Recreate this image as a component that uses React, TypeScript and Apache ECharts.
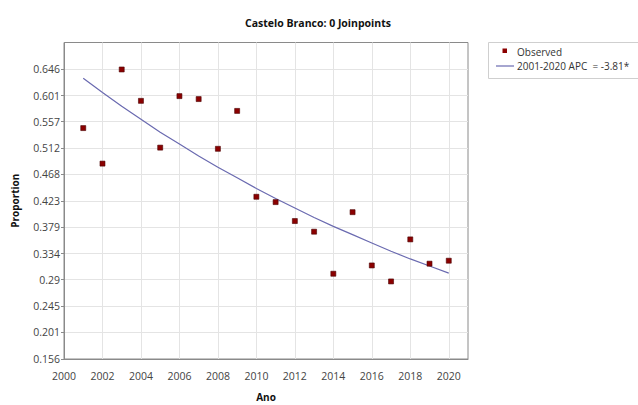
import React, { useEffect, useRef } from "react";
import * as echarts from "echarts";

const TITLE = "Castelo Branco: 0 Joinpoints";
const OBS_NAME = "Observed";
const FIT_NAME = "2001-2020 APC  = -3.81*";

const years = [2001, 2002, 2003, 2004, 2005, 2006, 2007, 2008, 2009, 2010, 2011, 2012, 2013, 2014, 2015, 2016, 2017, 2018, 2019, 2020];
const observed = [0.546, 0.486, 0.645, 0.592, 0.513, 0.600, 0.595, 0.511, 0.575, 0.430, 0.421, 0.389, 0.371, 0.300, 0.404, 0.314, 0.287, 0.358, 0.317, 0.322];
const fitted = [0.630, 0.606, 0.583, 0.561, 0.539, 0.519, 0.499, 0.480, 0.462, 0.444, 0.427, 0.411, 0.395, 0.380, 0.366, 0.352, 0.338, 0.325, 0.313, 0.301];

const yTickLabels = ["0.156", "0.201", "0.245", "0.29", "0.334", "0.379", "0.423", "0.468", "0.512", "0.557", "0.601", "0.646"];
const xTickLabels = ["2000", "2002", "2004", "2006", "2008", "2010", "2012", "2014", "2016", "2018", "2020"];

const FONT = "'Open Sans', 'Noto Sans', sans-serif";
const LINE_COLOR = "#6a6ab0";
const MARK_COLOR = "#8b0000";

export default function App() {
  const ref = useRef<HTMLDivElement>(null);

  useEffect(() => {
    if (!ref.current) return;
    const chart = echarts.init(ref.current, undefined, { renderer: "svg" });
    const yVals = yTickLabels.map(Number);
    const xVals = xTickLabels.map(Number);
    chart.setOption({
      animation: false,
      backgroundColor: "#ffffff",
      title: {
        text: TITLE,
        left: 313,
        top: 12,
        textAlign: "center",
        textStyle: { fontFamily: FONT, fontSize: 10.5, fontWeight: "bold", color: "#111" },
      },
      grid: {
        left: 64,
        top: 42.5,
        right: 170,
        bottom: 46,
        containLabel: false,
        outerBoundsMode: "none",
        show: true,
        borderColor: "#8a8a8a",
        borderWidth: 1,
        backgroundColor: "transparent",
      },
      xAxis: {
        type: "value",
        min: 2000,
        max: 2021,
        interval: 2,
        name: "Ano",
        nameLocation: "middle",
        nameGap: 33,
        nameTextStyle: { fontFamily: FONT, fontSize: 10, fontWeight: "bold", color: "#111" },
        axisLine: { show: true, lineStyle: { color: "#8a8a8a" } },
        axisTick: { show: false, customValues: xVals },
        axisLabel: {
          customValues: xVals,
          margin: 11,
          fontFamily: FONT,
          fontSize: 10.5,
          color: "#444",
          formatter: (v: number) => String(v),
        },
        splitLine: { show: true, lineStyle: { color: "#e4e4e4", width: 1 } },
      },
      yAxis: {
        type: "value",
        min: 0.156,
        max: 0.69055,
        name: "Proportion",
        nameLocation: "middle",
        nameGap: 44,
        nameRotate: 90,
        nameTextStyle: { fontFamily: FONT, fontSize: 10, fontWeight: "bold", color: "#111" },
        axisLine: { show: true, lineStyle: { color: "#8a8a8a" } },
        axisTick: { show: true, length: 3, customValues: yVals, lineStyle: { color: "#8a8a8a" } },
        axisLabel: {
          customValues: yVals,
          margin: 4,
          fontFamily: FONT,
          fontSize: 10.5,
          color: "#444",
          formatter: (v: number) => String(Number(v.toFixed(3))),
        },
        splitLine: { show: true, lineStyle: { color: "#e4e4e4", width: 1 } },
      },
      series: [
        {
          name: FIT_NAME,
          type: "line",
          data: years.map((y, i) => [y, fitted[i]]),
          smooth: false,
          showSymbol: false,
          symbol: "none",
          lineStyle: { color: LINE_COLOR, width: 1.2 },
          z: 2,
        },
        {
          name: OBS_NAME,
          type: "scatter",
          data: years.map((y, i) => [y, observed[i]]),
          symbol: "rect",
          symbolSize: 5,
          itemStyle: { color: MARK_COLOR, borderColor: "#4a0000", borderWidth: 0.6, opacity: 1 },
          z: 3,
        },
      ],
      graphic: [
        {
          type: "rect",
          shape: { x: 488.5, y: 42.5, width: 160, height: 36 },
          style: { fill: "#fff", stroke: "#cfcfcf", lineWidth: 1 },
        },
        {
          type: "rect",
          shape: { x: 502.5, y: 48.5, width: 4.5, height: 4.5 },
          style: { fill: MARK_COLOR },
        },
        {
          type: "line",
          shape: { x1: 496, y1: 66, x2: 514, y2: 66 },
          style: { stroke: LINE_COLOR, lineWidth: 1.2 },
        },
        {
          type: "text",
          x: 517,
          y: 52,
          style: { text: OBS_NAME, fontFamily: FONT, fontSize: 10, fill: "#333", verticalAlign: "middle" },
        },
        {
          type: "text",
          x: 517,
          y: 66,
          style: { text: FIT_NAME, fontFamily: FONT, fontSize: 10, fill: "#333", verticalAlign: "middle" },
        },
      ],
    });
    return () => chart.dispose();
  }, []);

  return (
    <div
      ref={ref}
      style={{ position: "absolute", left: 0, top: 0, width: 638, height: 405 }}
    />
  );
}
